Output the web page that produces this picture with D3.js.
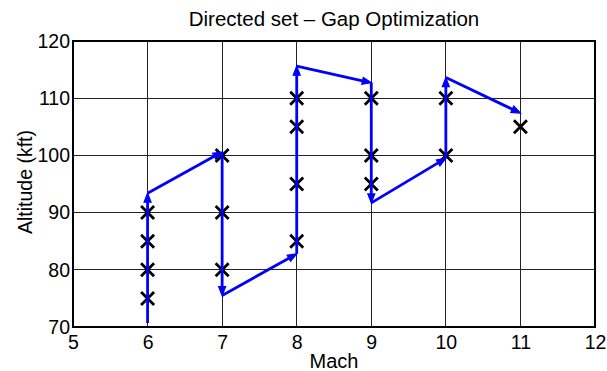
<!DOCTYPE html>
<html>
<head>
<meta charset="utf-8">
<script src="https://cdn.jsdelivr.net/npm/d3@7"></script>
<style>
  body { margin: 0; background: #fff; }
  svg { display: block; font-family: "Liberation Sans", Arial, sans-serif; }
</style>
</head>
<body>
<svg id="chart" width="607" height="371"></svg>
<script>
// sampled design points (x markers)
const pointMach = [6, 6, 6, 6, 7, 7, 7, 8, 8, 8, 8, 9, 9, 9, 10, 10, 11];
const pointAlt = [75, 80, 85, 90, 80, 90, 100, 85, 95, 105, 110, 95, 100, 110, 100, 110, 105];

// directed path (arrows between consecutive waypoints)
const pathMach = [6, 6, 7, 7, 8, 8, 9, 9, 10, 10, 11];
const pathAlt = [70.7, 93.4, 100.6, 75.5, 82.8, 115.6, 112.7, 91.7, 99.5, 113.6, 107.4];

const xTicks = [5, 6, 7, 8, 9, 10, 11, 12];
const yTicks = [70, 80, 90, 100, 110, 120];

const svg = d3.select("#chart");
const margin = { left: 73, right: 12, top: 41, bottom: 44 };
const width = 607 - margin.left - margin.right,
      height = 371 - margin.top - margin.bottom;

const x = d3.scaleLinear().domain([5, 12]).range([0, width]);
const y = d3.scaleLinear().domain([70, 120]).range([height, 0]);

const g = svg.append("g").attr("transform", "translate(" + margin.left + "," + margin.top + ")");

// grid
g.append("g").selectAll("line").data(xTicks).enter().append("line")
  .attr("x1", d => x(d)).attr("x2", d => x(d))
  .attr("y1", 0).attr("y2", height)
  .attr("stroke", "#222").attr("stroke-width", 1).attr("shape-rendering", "crispEdges");
g.append("g").selectAll("line").data(yTicks).enter().append("line")
  .attr("y1", d => y(d)).attr("y2", d => y(d))
  .attr("x1", 0).attr("x2", width)
  .attr("stroke", "#222").attr("stroke-width", 1).attr("shape-rendering", "crispEdges");

// box
g.append("rect").attr("width", width).attr("height", height)
  .attr("fill", "none").attr("stroke", "#000").attr("stroke-width", 1.5)
  .attr("shape-rendering", "crispEdges");

// axes (labels only)
const xAxis = g.append("g").attr("transform", "translate(0," + height + ")")
  .call(d3.axisBottom(x).tickValues(xTicks).tickFormat(d3.format("d")).tickSize(0).tickPadding(8));
const yAxis = g.append("g")
  .call(d3.axisLeft(y).tickValues(yTicks).tickFormat(d3.format("d")).tickSize(0).tickPadding(3));
[xAxis, yAxis].forEach(a => {
  a.select(".domain").remove();
  a.attr("font-size", null).attr("font-family", null);
  a.selectAll("text").attr("font-size", 19.5).attr("fill", "#000");
});

// markers
const ms = 6.5;
const marks = g.append("g");
pointMach.forEach((m, i) => {
  const cx = x(m), cy = y(pointAlt[i]);
  marks.append("path")
    .attr("d", `M${cx - ms},${cy - ms}L${cx + ms},${cy + ms}M${cx - ms},${cy + ms}L${cx + ms},${cy - ms}`)
    .attr("stroke", "#000").attr("stroke-width", 2.8).attr("fill", "none");
});

// arrows
const arrows = g.append("g");
const headLen = 9, headW = 3.5;
for (let i = 0; i < pathMach.length - 1; i++) {
  const x1 = x(pathMach[i]), y1 = y(pathAlt[i]);
  const x2 = x(pathMach[i + 1]), y2 = y(pathAlt[i + 1]);
  const dx = x2 - x1, dy = y2 - y1, len = Math.hypot(dx, dy);
  const ux = dx / len, uy = dy / len;
  const bx = x2 - ux * headLen, by = y2 - uy * headLen;
  arrows.append("line")
    .attr("x1", x1).attr("y1", y1).attr("x2", bx).attr("y2", by)
    .attr("stroke", "#0000ff").attr("stroke-width", 2.8);
  arrows.append("path")
    .attr("d", `M${x2},${y2}L${bx - uy * headW},${by + ux * headW}L${bx + uy * headW},${by - ux * headW}Z`)
    .attr("fill", "#0000ff").attr("stroke", "#0000ff").attr("stroke-width", 1.2);
}

// labels
svg.append("text").attr("x", margin.left + width / 2).attr("y", 26)
  .attr("text-anchor", "middle").attr("font-size", 20.5).text("Directed set \u2013 Gap Optimization");
svg.append("text").attr("x", margin.left + width / 2).attr("y", 368)
  .attr("text-anchor", "middle").attr("font-size", 20).text("Mach");
svg.append("text").attr("transform", "translate(32," + (margin.top + height / 2 - 2) + ") rotate(-90)")
  .attr("text-anchor", "middle").attr("font-size", 19.5).text("Altitude (kft)");
</script>
</body>
</html>
